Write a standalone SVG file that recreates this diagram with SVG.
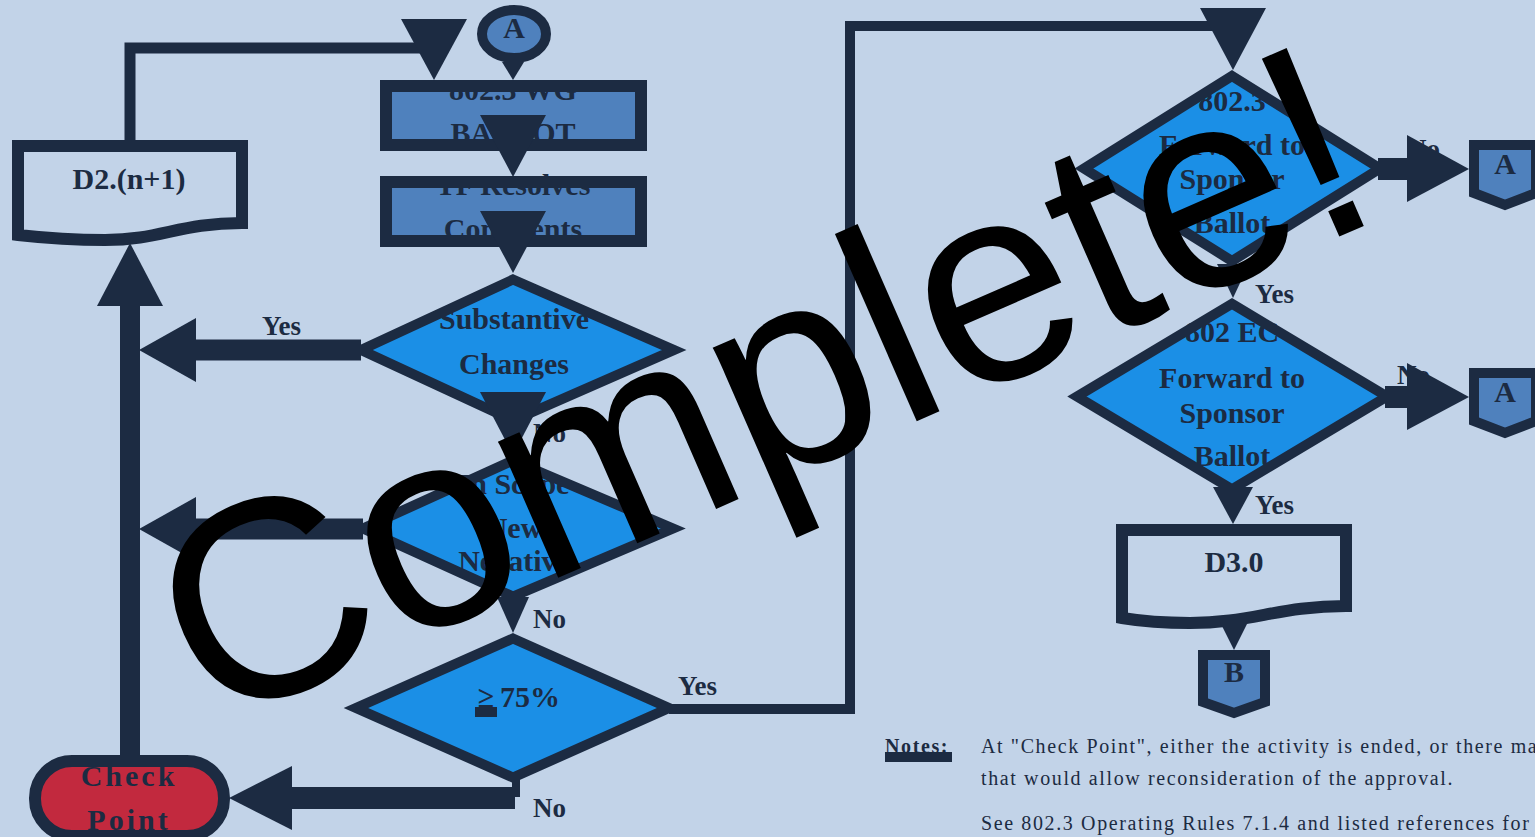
<svg xmlns="http://www.w3.org/2000/svg" width="1535" height="837" viewBox="0 0 1535 837">
<style>
.st{stroke:#1C2B42;stroke-linejoin:miter}
.box{fill:#4F81BD;stroke-width:12}
.dia{fill:#1B8FE6;stroke-width:10}
.doc{fill:#C2D3E8;stroke-width:12}
.off{fill:#4F81BD;stroke-width:10}
.cp{fill:#C2293E;stroke-width:12}
.t{font-family:"Liberation Serif",serif;font-weight:bold;fill:#1C2B42;text-anchor:middle;font-size:30px}
.l{font-family:"Liberation Serif",serif;font-weight:bold;fill:#1C2B42;font-size:27px}
.ln{fill:none;stroke:#1C2B42;stroke-linejoin:miter}
.ah{fill:#1C2B42}
.note{font-family:"Liberation Serif",serif;fill:#1C2B42;font-size:20px;letter-spacing:1.62px}
</style>
<rect width="1535" height="837" fill="#C2D3E8"/>

<g id="nodes">
<g id="offpage-A-top">
<ellipse class="st off" cx="514" cy="34" rx="32" ry="24"/>
<text class="t" x="514" y="38" font-size="28">A</text>
</g>
<g id="wg-ballot">
<rect class="st box" x="386" y="86" width="255" height="59"/>
<text class="t" x="513" y="100">802.3 WG</text>
<text class="t" x="513" y="143">BALLOT</text>
</g>
<g id="tf-resolves">
<rect class="st box" x="386" y="182" width="255" height="59"/>
<text class="t" x="513" y="195">TF Resolves</text>
<text class="t" x="513" y="239">Comments</text>
</g>
<g id="substantive">
<path class="st dia" d="M513,279.5 L674,350 L513,420.5 L361,350 Z"/>
<text class="t" x="514" y="329">Substantive</text>
<text class="t" x="514" y="374">Changes</text>
</g>
<g id="in-scope">
<path class="st dia" d="M513,460.5 L673,528.5 L513,596.5 L363,528.5 Z"/>
<text class="t" x="514" y="494">In Scope</text>
<text class="t" x="514" y="538">New</text>
<text class="t" x="514" y="571">Negative</text>
</g>
<g id="pct75">
<path class="st dia" d="M513,638.5 L669,708 L513,777.5 L356,708 Z"/>
<text class="t" x="486" y="707">≥</text>
<text class="t" x="530" y="707">75%</text>
<rect x="475" y="707" width="22" height="10" fill="#1C2B42"/>
</g>
<g id="d2n1">
<path class="st doc" d="M18,146 H242 V223 C180,223 160,240 105,240 C70,240 45,238 18,235 Z"/>
<text class="t" x="129" y="189">D2.(n+1)</text>
</g>
<g id="check-point">
<rect class="st cp" x="35" y="761" width="189" height="75" rx="37" ry="37"/>
<text class="t" x="129" y="786" font-size="28" letter-spacing="3">Check</text>
<text class="t" x="129" y="830" font-size="28" letter-spacing="3">Point</text>
</g>
<g id="fwd-8023">
<path class="st dia" d="M1232,76 L1380,168.5 L1232,261 L1084,168.5 Z"/>
<text class="t" x="1232" y="111">802.3</text>
<text class="t" x="1232" y="155">Forward to</text>
<text class="t" x="1232" y="189">Sponsor</text>
<text class="t" x="1232" y="233">Ballot</text>
</g>
<g id="fwd-802ec">
<path class="st dia" d="M1232,303.8 L1387,396.5 L1232,489.2 L1077,396.5 Z"/>
<text class="t" x="1232" y="342">802 EC</text>
<text class="t" x="1232" y="388">Forward to</text>
<text class="t" x="1232" y="423">Sponsor</text>
<text class="t" x="1232" y="466">Ballot</text>
</g>
<g id="offpage-A1">
<path class="st off" d="M1474,145 H1536 V193 L1505,205 L1474,193 Z"/>
<text class="t" x="1505" y="174" font-size="28">A</text>
</g>
<g id="offpage-A2">
<path class="st off" d="M1474,373 H1536 V421 L1505,433 L1474,421 Z"/>
<text class="t" x="1505" y="402" font-size="28">A</text>
</g>
<g id="d30">
<path class="st doc" d="M1122,530 H1346 V606 C1280,606 1250,623 1190,623 C1160,623 1140,621 1122,618 Z" stroke-width="11"/>
<text class="t" x="1234" y="572">D3.0</text>
</g>
<g id="offpage-B">
<path class="st off" d="M1203,655 H1265 V702 L1234,713 L1203,702 Z" stroke-width="11"/>
<text class="t" x="1234" y="682" font-size="28">B</text>
</g>
</g>

<g id="connectors">
<polygon class="ah" points="502,62 524,62 513,80"/>
<polyline class="ln" points="130,142 130,48 434,48" stroke-width="11"/>
<polygon class="ah" points="401,19 467,19 434,80"/>
<polygon class="ah" points="480,115 546,115 513,177"/>
<polygon class="ah" points="480,211 546,211 513,273"/>
<polygon class="ah" points="480,392 546,392 513,455"/>
<polygon class="ah" points="497,597 529,597 513,633"/>
<path class="ln" d="M361,350 H195" stroke-width="21"/>
<polygon class="ah" points="196,318 196,382 139,350"/>
<path class="ln" d="M363,529 H195" stroke-width="21"/>
<polygon class="ah" points="196,497 196,561 139,529"/>
<path class="ln" d="M130,760 V304" stroke-width="20"/>
<polygon class="ah" points="97,306 163,306 130,243"/>
<path class="ln" d="M516,778 V797" stroke-width="8"/>
<path class="ln" d="M515,798 H290" stroke-width="22"/>
<polygon class="ah" points="292,766 292,830 229,798"/>
<polyline class="ln" points="669,709 850,709 850,26 1233,26 1233,40" stroke-width="10"/>
<polygon class="ah" points="1200,8 1266,8 1233,70"/>
<path class="ln" d="M1378,169 H1409" stroke-width="22"/>
<polygon class="ah" points="1407,135 1407,202 1469,169"/>
<path class="ln" d="M1385,397 H1409" stroke-width="22"/>
<polygon class="ah" points="1407,363 1407,430 1469,397"/>
<polygon class="ah" points="1217,264 1249,264 1233,298"/>
<polygon class="ah" points="1213,487 1253,487 1233,524"/>
<polygon class="ah" points="1219,620 1249,620 1234,650"/>
<text class="l" x="262" y="335">Yes</text>
<text class="l" x="533" y="442">No</text>
<text class="l" x="533" y="628">No</text>
<text class="l" x="533" y="817">No</text>
<text class="l" x="678" y="695">Yes</text>
<text class="l" x="1407" y="158">No</text>
<text class="l" x="1255" y="303">Yes</text>
<text class="l" x="1397" y="384">No</text>
<text class="l" x="1255" y="514">Yes</text>
</g>

<g id="notes">
<text class="note" x="885" y="753" font-weight="bold" letter-spacing="2.5">Notes:</text>
<rect x="885" y="752" width="67" height="10" fill="#1C2B42"/>
<text class="note" x="981" y="753">At "Check Point", either the activity is ended, or there ma</text>
<text class="note" x="981" y="785">that would allow reconsideration of the approval.</text>
<text class="note" x="981" y="830">See 802.3 Operating Rules 7.1.4 and listed references for</text>
</g>

<text id="watermark" x="0" y="0" transform="translate(210,730) rotate(-23.6)" font-family="Liberation Sans, Arial, sans-serif" font-size="282" fill="#000">Complete!</text>
</svg>
